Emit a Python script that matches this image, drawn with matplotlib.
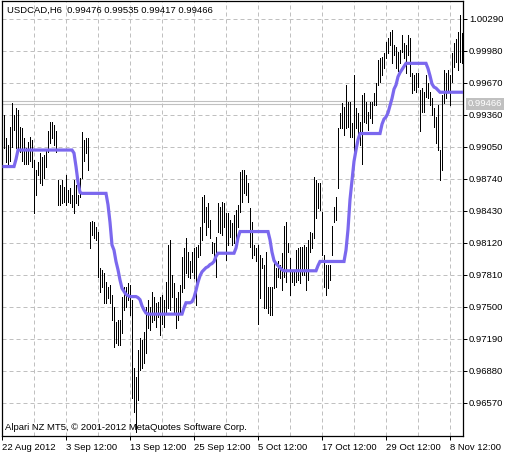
import matplotlib
matplotlib.use("Agg")
import matplotlib.pyplot as plt
import numpy as np

# USDCAD H6 bars (one bar every 2 px)
highs = [
    0.9936, 0.9914, 0.9907, 0.9924, 0.9948, 0.9936, 0.9943, 0.9941, 0.9924, 0.9923,
    0.9914, 0.9904, 0.9910, 0.9915, 0.9912, 0.9892, 0.9883, 0.9890, 0.9899, 0.9895,
    0.9897, 0.9902, 0.9920, 0.9929, 0.9929, 0.9926, 0.9920, 0.9873, 0.9868, 0.9873,
    0.9866, 0.9878, 0.9863, 0.9865, 0.9858, 0.9873, 0.9868, 0.9858, 0.9875, 0.9919,
    0.9912, 0.9914, 0.9914, 0.9832, 0.9833, 0.9832, 0.9827, 0.9823, 0.9788, 0.9786,
    0.9783, 0.9774, 0.9769, 0.9771, 0.9762, 0.9750, 0.9735, 0.9737, 0.9737, 0.9760,
    0.9769, 0.9769, 0.9773, 0.9771, 0.9757, 0.9691, 0.9682, 0.9708, 0.9720, 0.9718,
    0.9726, 0.9750, 0.9757, 0.9750, 0.9764, 0.9760, 0.9754, 0.9755, 0.9760, 0.9762,
    0.9757, 0.9774, 0.9810, 0.9815, 0.9781, 0.9773, 0.9759, 0.9764, 0.9771, 0.9798,
    0.9807, 0.9817, 0.9803, 0.9794, 0.9803, 0.9807, 0.9808, 0.9810, 0.9827, 0.9856,
    0.9858, 0.9847, 0.9851, 0.9834, 0.9813, 0.9812, 0.9818, 0.9851, 0.9847, 0.9852,
    0.9851, 0.9841, 0.9841, 0.9834, 0.9831, 0.9839, 0.9844, 0.9849, 0.9881, 0.9883,
    0.9883, 0.9878, 0.9870, 0.9846, 0.9832, 0.9810, 0.9807, 0.9810, 0.9800, 0.9797,
    0.9791, 0.9803, 0.9769, 0.9769, 0.9769, 0.9797, 0.9788, 0.9794, 0.9791, 0.9802,
    0.9828, 0.9832, 0.9812, 0.9797, 0.9786, 0.9786, 0.9805, 0.9807, 0.9808, 0.9808,
    0.9810, 0.9808, 0.9815, 0.9823, 0.9822, 0.9876, 0.9873, 0.9870, 0.9870, 0.9842,
    0.9800, 0.9791, 0.9791, 0.9791, 0.9828, 0.9847, 0.9856, 0.9923, 0.9938, 0.9948,
    0.9944, 0.9965, 0.9949, 0.9949, 0.9928, 0.9975, 0.9943, 0.9938, 0.9929, 0.9955,
    0.9957, 0.9949, 0.9939, 0.9949, 0.9949, 0.9957, 0.9967, 0.9989, 0.9991, 0.9992,
    0.9996, 1.0007, 1.0011, 1.0016, 1.0018, 1.0004, 1.0002, 0.9997, 0.9999, 1.0013,
    1.0006, 1.0004, 1.0013, 1.0011, 0.9977, 0.9975, 0.9977, 0.9977, 0.9960, 0.9962,
    0.9958, 0.9975, 0.9967, 0.9958, 0.9952, 0.9943, 0.9934, 0.9946, 0.9902, 0.9955,
    0.9980, 0.9977, 0.9980, 0.9975, 0.9996, 1.0006, 1.0010, 1.0016, 1.0033, 1.0015,
]
lows = [
    0.9904, 0.9890, 0.9886, 0.9891, 0.9905, 0.9921, 0.9904, 0.9902, 0.9900, 0.9891,
    0.9888, 0.9888, 0.9888, 0.9891, 0.9886, 0.9841, 0.9858, 0.9878, 0.9870, 0.9868,
    0.9875, 0.9886, 0.9900, 0.9909, 0.9914, 0.9907, 0.9900, 0.9849, 0.9849, 0.9851,
    0.9852, 0.9849, 0.9852, 0.9851, 0.9847, 0.9841, 0.9851, 0.9849, 0.9856, 0.9875,
    0.9891, 0.9899, 0.9883, 0.9807, 0.9820, 0.9817, 0.9815, 0.9779, 0.9764, 0.9769,
    0.9754, 0.9754, 0.9759, 0.9754, 0.9737, 0.9711, 0.9715, 0.9713, 0.9713, 0.9725,
    0.9747, 0.9750, 0.9757, 0.9742, 0.9662, 0.9648, 0.9629, 0.9660, 0.9689, 0.9691,
    0.9696, 0.9705, 0.9730, 0.9728, 0.9735, 0.9737, 0.9731, 0.9740, 0.9723, 0.9733,
    0.9731, 0.9744, 0.9749, 0.9747, 0.9760, 0.9744, 0.9730, 0.9737, 0.9744, 0.9764,
    0.9768, 0.9783, 0.9779, 0.9778, 0.9784, 0.9778, 0.9752, 0.9798, 0.9800, 0.9815,
    0.9832, 0.9820, 0.9827, 0.9817, 0.9802, 0.9795, 0.9779, 0.9823, 0.9822, 0.9820,
    0.9827, 0.9795, 0.9810, 0.9818, 0.9810, 0.9812, 0.9812, 0.9827, 0.9842, 0.9852,
    0.9860, 0.9858, 0.9852, 0.9808, 0.9797, 0.9800, 0.9794, 0.9733, 0.9759, 0.9788,
    0.9749, 0.9749, 0.9744, 0.9742, 0.9742, 0.9768, 0.9769, 0.9779, 0.9778, 0.9766,
    0.9779, 0.9774, 0.9803, 0.9762, 0.9774, 0.9771, 0.9774, 0.9776, 0.9773, 0.9781,
    0.9781, 0.9766, 0.9776, 0.9803, 0.9807, 0.9817, 0.9836, 0.9846, 0.9844, 0.9800,
    0.9769, 0.9762, 0.9768, 0.9776, 0.9800, 0.9832, 0.9834, 0.9865, 0.9923, 0.9923,
    0.9917, 0.9923, 0.9924, 0.9915, 0.9915, 0.9888, 0.9923, 0.9914, 0.9907, 0.9888,
    0.9929, 0.9928, 0.9921, 0.9933, 0.9928, 0.9946, 0.9946, 0.9965, 0.9968, 0.9975,
    0.9981, 0.9991, 0.9996, 1.0004, 0.9986, 0.9994, 0.9981, 0.9979, 0.9986, 0.9997,
    0.9991, 0.9977, 0.9994, 0.9974, 0.9957, 0.9960, 0.9958, 0.9963, 0.9920, 0.9939,
    0.9939, 0.9953, 0.9952, 0.9946, 0.9936, 0.9924, 0.9909, 0.9902, 0.9873, 0.9883,
    0.9948, 0.9952, 0.9958, 0.9946, 0.9968, 0.9982, 0.9987, 0.9980, 0.9987, 0.9986,
]

# indicator line (stepped)
indicator = (
    [0.9886] * 6 + [0.9893] + [0.9902] * 28
    + [0.9899, 0.9886, 0.9871, 0.9861] + [0.9860] * 13
    + [0.9849, 0.9832, 0.9810, 0.9805, 0.9794, 0.9786, 0.9776, 0.9768, 0.9765, 0.9762, 0.9761]
    + [0.9760] * 4 + [0.9759, 0.9757, 0.9751, 0.9747, 0.9744] + [0.9743] * 18
    + [0.9749] + [0.9754] * 3
    + [0.9755, 0.9759, 0.9766, 0.9774, 0.9780, 0.9784, 0.9786, 0.9788, 0.9789, 0.9791, 0.9792, 0.9794, 0.9799]
    + [0.9802] * 9 + [0.9807, 0.9817] + [0.9823] * 15
    + [0.9815, 0.9803, 0.9795, 0.9792, 0.9790, 0.9788, 0.9786] + [0.9785] * 17
    + [0.9790] + [0.9794] * 13
    + [0.9805, 0.9825, 0.9854, 0.9873, 0.9891, 0.9902, 0.9912] + [0.9918] * 11
    + [0.9927, 0.9932, 0.9934, 0.9938, 0.9945, 0.9952, 0.9961, 0.9965, 0.9973, 0.9977, 0.9980, 0.9983]
    + [0.9986] * 11
    + [0.9981, 0.9974, 0.9966, 0.9963, 0.9962, 0.9960] + [0.9958] * 12
)

price_ticks = [1.00290, 0.99980, 0.99670, 0.99360, 0.99050, 0.98740, 0.98430,
               0.98120, 0.97810, 0.97500, 0.97190, 0.96880, 0.96570]
time_tick_bars = [-1, 31, 63, 95, 127, 159, 191, 223]
time_labels = ["22 Aug 2012", "3 Sep 12:00", "13 Sep 12:00", "25 Sep 12:00",
               "5 Oct 12:00", "17 Oct 12:00", "29 Oct 12:00", "8 Nov 12:00"]
bid_price = 0.99466
ask_price = 0.99495
header = "USDCAD,H6  0.99476 0.99535 0.99417 0.99466"
footer = "Alpari NZ MT5, \u00a9 2001-2012 MetaQuotes Software Corp."

plt.rcParams['font.family'] = ['Liberation Sans', 'DejaVu Sans']
FS = 6.8
W, H = 516, 457

fig = plt.figure(figsize=(W / 100, H / 100), dpi=100)
fig.patch.set_facecolor('white')
ax = fig.add_axes([2 / W, (H - 436) / H, 461 / W, 435 / H])

x = np.arange(len(highs))

# grid
for gx in range(15, 230, 16):
    ax.axvline(gx, color='#C0C0C0', lw=0.72, dashes=(4, 3), zorder=0)
for p in price_ticks:
    ax.axhline(p, color='#C0C0C0', lw=0.72, dashes=(4, 3), zorder=0)

# bid / ask lines
ax.axhline(ask_price, color='#C0C0C0', lw=0.8, zorder=1)
ax.axhline(bid_price, color='#C0C0C0', lw=0.8, zorder=1)

ax.vlines(x, lows, highs, color='black', lw=0.5, antialiased=False, zorder=2)
ax.plot(x, indicator, color='#7B68EE', lw=2.3, solid_joinstyle='miter', zorder=3)

ax.set_xlim(-1, 229.5)
ax.set_ylim(0.96249, 1.00464)

ax.yaxis.tick_right()
ax.set_yticks(price_ticks)
ax.set_yticklabels([f"{p:.5f}" for p in price_ticks], fontsize=FS)
ax.tick_params(axis='y', direction='out', length=3.2, width=0.72, pad=1.2)

ax.set_xticks(time_tick_bars)
ax.set_xticklabels(time_labels, fontsize=FS, ha='left')
ax.tick_params(axis='x', direction='out', length=3.2, width=0.72, pad=2.2)

for s in ax.spines.values():
    s.set_color('black')
    s.set_linewidth(0.9)

# current price label
ax.text(1.0 + 5 / 461, bid_price, f"{bid_price:.5f}", transform=ax.get_yaxis_transform(),
        fontsize=FS, color='white', va='center', ha='left',
        bbox=dict(boxstyle='square,pad=0.2', fc='#C0C0C0', ec='none'), zorder=5)

fig.text(7 / W, 1 - 10 / H, header, fontsize=FS, va='center', ha='left')
fig.text(5 / W, 1 - 428 / H, footer, fontsize=FS, va='center', ha='left')

fig.savefig("out.png", dpi=100)
